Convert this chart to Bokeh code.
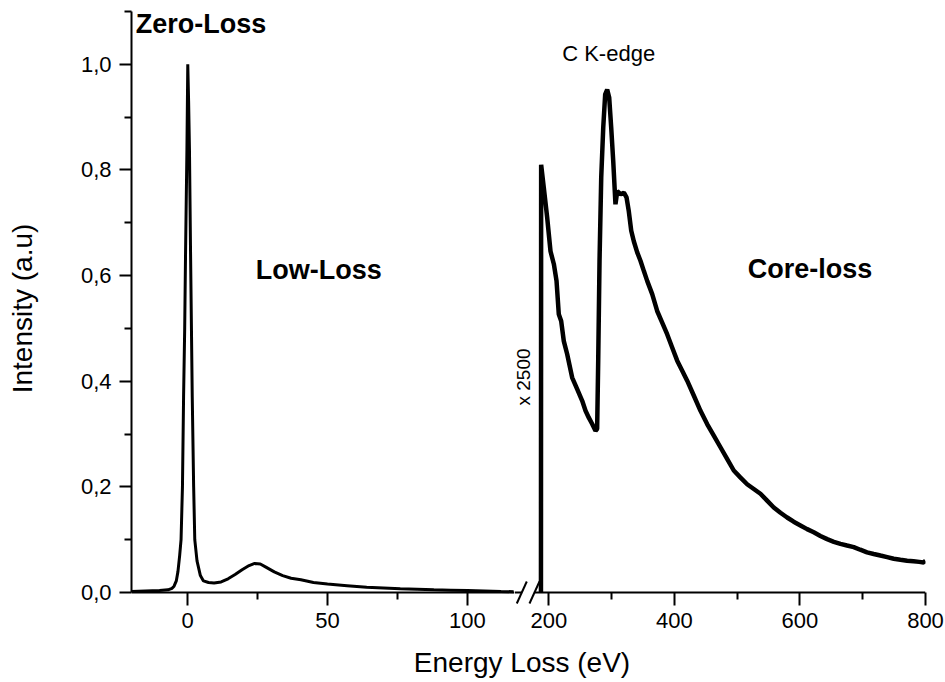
import math
from bokeh.plotting import figure
from bokeh.layouts import row, column
from bokeh.models import Range1d, FixedTicker, CustomJSTickFormatter, Label
from bokeh.embed import file_html
from bokeh.resources import INLINE

# ---------------- data ----------------
low_energy = [-20, -15, -10, -7, -5.5, -4.8, -4, -3.4, -2.8, -2.3, -1.8, -1.4, -1.0, -0.7,
              -0.2, 0.1, 0.4, 0.7, 1.1, 1.7, 2.2, 2.6, 3.4, 4.6, 5.7, 7.5, 9.5, 12, 14.5,
              17, 19.5, 22, 24, 26, 28, 31, 34, 37, 40.5, 45, 50, 57, 64, 70, 76, 82, 88,
              94, 100, 106, 112, 116.5]
low_intensity = [0.002, 0.003, 0.004, 0.005, 0.008, 0.012, 0.022, 0.04, 0.07, 0.10, 0.20,
                 0.37, 0.50, 0.64, 0.84, 1.0, 0.93, 0.84, 0.64, 0.37, 0.20, 0.10, 0.06,
                 0.032, 0.022, 0.019, 0.018, 0.020, 0.026, 0.034, 0.043, 0.051, 0.055,
                 0.054, 0.048, 0.039, 0.032, 0.027, 0.024, 0.019, 0.016, 0.013, 0.010,
                 0.0085, 0.007, 0.006, 0.005, 0.0045, 0.004, 0.003, 0.002, 0.0015]

core_energy = [187.5, 187.8, 192, 197.4, 202.7, 208, 212.3, 215.9, 219.7, 223.9, 229.3,
               237.2, 245.2, 253.2, 258.5, 263.7, 269.1, 274.4, 277, 278.7, 280.8, 283.5,
               286.7, 289.8, 293, 296.2, 299.4, 302.6, 306.2, 309, 314.3, 319.6, 323.8,
               327.4, 331.3, 335.4, 340.8, 346, 351.3, 356.7, 364.7, 372.6, 380.6, 388.5,
               396.5, 404.5, 412.5, 420.4, 430.9, 441.6, 452.2, 462.8, 473.4, 484, 494.6,
               505, 515.9, 526.5, 537.1, 547.7, 558.3, 569, 579.6, 590, 600.8, 611.4, 622,
               632.6, 643.3, 654, 664.5, 675, 685.7, 696, 706.9, 717.5, 728.2, 739, 749.4,
               760, 770.7, 781, 790, 797, 800]
core_intensity = [0.0, 0.81, 0.767, 0.71, 0.646, 0.622, 0.59, 0.527, 0.514, 0.476, 0.451,
                  0.407, 0.385, 0.363, 0.344, 0.331, 0.319, 0.306, 0.31, 0.439, 0.628, 0.786,
                  0.88, 0.943, 0.952, 0.937, 0.88, 0.817, 0.735, 0.76, 0.754, 0.757, 0.748,
                  0.722, 0.685, 0.665, 0.644, 0.628, 0.609, 0.59, 0.565, 0.533, 0.511, 0.489,
                  0.464, 0.439, 0.42, 0.401, 0.373, 0.344, 0.319, 0.297, 0.275, 0.253, 0.231,
                  0.218, 0.205, 0.196, 0.187, 0.174, 0.161, 0.151, 0.142, 0.134, 0.127, 0.120,
                  0.114, 0.107, 0.101, 0.096, 0.092, 0.089, 0.086, 0.081, 0.076, 0.073, 0.070,
                  0.067, 0.064, 0.062, 0.060, 0.059, 0.058, 0.057, 0.060]

y_ticks = [0.0, 0.2, 0.4, 0.6, 0.8, 1.0]
y_minor = [0.1, 0.3, 0.5, 0.7, 0.9, 1.1]
low_ticks = [0, 50, 100]
low_minor = [-25, 25, 75, 125]
core_ticks = [200, 400, 600, 800]
core_minor = [300, 500, 700]

# axis break: left axis ends at LOW_BREAK (low-loss units), right axis starts at CORE_BREAK
LOW_BREAK = 119.4
CORE_BREAK = 177.2

FONT = "Liberation Sans"

# geometry of the two panels
LOW_RANGE = (-20, 116.8)
CORE_RANGE = (145.36, 800)
LEFT_W, RIGHT_W = 514, 431
BORDER_L, BORDER_R, BORDER_T, BORDER_B = 131, 20, 11, 35
Y_RANGE = (-0.0246, 1.1)   # a little room below zero for the break marks
low_scale = (LEFT_W - BORDER_L) / (LOW_RANGE[1] - LOW_RANGE[0])
core_scale = (RIGHT_W - BORDER_R) / (CORE_RANGE[1] - CORE_RANGE[0])
frame_h = 640 - BORDER_T - BORDER_B
y_scale = frame_h / (Y_RANGE[1] - Y_RANGE[0])
TEXT_LIFT = 10.5  # px: compensates the renderer's baseline placement


def low_to_core(x):
    px = (x - LOW_RANGE[0]) * low_scale - (LEFT_W - BORDER_L)
    return CORE_RANGE[0] + px / core_scale


shared_y = Range1d(*Y_RANGE)


def style_x(ax):
    ax.axis_line_color = None
    ax.major_tick_line_color = "black"
    ax.major_tick_line_width = 2
    ax.minor_tick_line_color = "black"
    ax.minor_tick_line_width = 2
    ax.major_tick_in = 13
    ax.major_tick_out = 0
    ax.minor_tick_in = 13
    ax.minor_tick_out = -6
    ax.major_label_text_font = FONT
    ax.major_label_text_font_size = "22px"
    ax.major_label_text_color = "black"
    ax.major_label_standoff = 7


def break_mark(p, cx, scale):
    dx = 5.0 / scale
    dy = 11.0 / y_scale
    p.segment(x0=[cx - dx], y0=[-dy], x1=[cx + dx], y1=[dy], line_color="black", line_width=2)


def label(p, x, y, text, size, bold=False):
    p.add_layout(Label(x=x, y=y + TEXT_LIFT / y_scale, text=text, text_font=FONT,
                       text_font_size=size, text_font_style="bold" if bold else "normal",
                       text_color="black", text_baseline="alphabetic"))


# ---------------- left panel: low loss ----------------
left = figure(width=LEFT_W, height=640, x_range=Range1d(*LOW_RANGE), y_range=shared_y,
              output_backend="svg", toolbar_location=None,
              min_border_left=BORDER_L, min_border_right=0, min_border_top=BORDER_T,
              min_border_bottom=BORDER_B)
left.outline_line_color = None
left.grid.visible = False
left.xaxis.ticker = FixedTicker(ticks=low_ticks, minor_ticks=low_minor)
style_x(left.xaxis[0])
ya = left.yaxis[0]
ya.ticker = FixedTicker(ticks=y_ticks, minor_ticks=y_minor)
ya.formatter = CustomJSTickFormatter(code="return tick.toFixed(1).replace('.', ',');")
ya.bounds = (0, 1.1)
ya.axis_line_color = "black"
ya.axis_line_width = 2
ya.major_tick_line_color = "black"
ya.major_tick_line_width = 2
ya.minor_tick_line_color = "black"
ya.minor_tick_line_width = 2
ya.major_tick_in = 0
ya.major_tick_out = 12
ya.minor_tick_in = 0
ya.minor_tick_out = 7
ya.major_label_text_font = FONT
ya.major_label_text_font_size = "22px"
ya.major_label_text_color = "black"
ya.major_label_standoff = 8
ya.axis_label = "Intensity (a.u)"
ya.axis_label_text_font = FONT
ya.axis_label_text_font_size = "28px"
ya.axis_label_text_font_style = "normal"
ya.axis_label_text_color = "black"
ya.axis_label_standoff = 40

# x axis line at zero (up to the break)
left.line([LOW_RANGE[0], LOW_BREAK], [0, 0], line_color="black", line_width=2)
left.line(low_energy, low_intensity, line_color="black", line_width=3)

label(left, -18.5, 1.057, "Zero-Loss", "27px", bold=True)
label(left, 24.4, 0.590, "Low-Loss", "27px", bold=True)

# ---------------- right panel: core loss ----------------
right = figure(width=RIGHT_W, height=640, x_range=Range1d(*CORE_RANGE), y_range=shared_y,
               output_backend="svg", toolbar_location=None, y_axis_location=None,
               min_border_left=0, min_border_right=BORDER_R, min_border_top=BORDER_T,
               min_border_bottom=BORDER_B)
right.outline_line_color = None
right.grid.visible = False
right.xaxis.ticker = FixedTicker(ticks=core_ticks, minor_ticks=core_minor)
style_x(right.xaxis[0])

right.line([CORE_RANGE[0], low_to_core(LOW_BREAK)], [0, 0], line_color="black", line_width=2)
right.line([CORE_BREAK, CORE_RANGE[1]], [0, 0], line_color="black", line_width=2)
break_mark(right, low_to_core(LOW_BREAK), core_scale)
break_mark(right, CORE_BREAK, core_scale)
right.line(core_energy, core_intensity, line_color="black", line_width=4.5)

label(right, 221.3, 1.0, "C K-edge", "22px")
label(right, 516.9, 0.593, "Core-loss", "27px", bold=True)
right.add_layout(Label(x=176.1 - TEXT_LIFT / core_scale, y=0.354, text="x 2500",
                       angle=math.pi / 2, text_font=FONT, text_font_size="19px",
                       text_color="black", text_align="left", text_baseline="alphabetic"))

# ---------------- bottom strip: shared x-axis title ----------------
bottom = figure(width=945, height=42, x_range=Range1d(0, 945), y_range=Range1d(0, 42),
                output_backend="svg", toolbar_location=None, x_axis_location=None,
                y_axis_location=None, title=None, min_border_left=0, min_border_right=0,
                min_border_top=0, min_border_bottom=0)
bottom.outline_line_color = None
bottom.grid.visible = False
bottom.add_layout(Label(x=521.5, y=10 + TEXT_LIFT, text="Energy Loss (eV)", text_font=FONT,
                        text_font_size="28px", text_color="black", text_align="center",
                        text_baseline="alphabetic"))

layout = column(row(left, right), bottom)
open("out.html", "w").write(file_html(layout, INLINE))
